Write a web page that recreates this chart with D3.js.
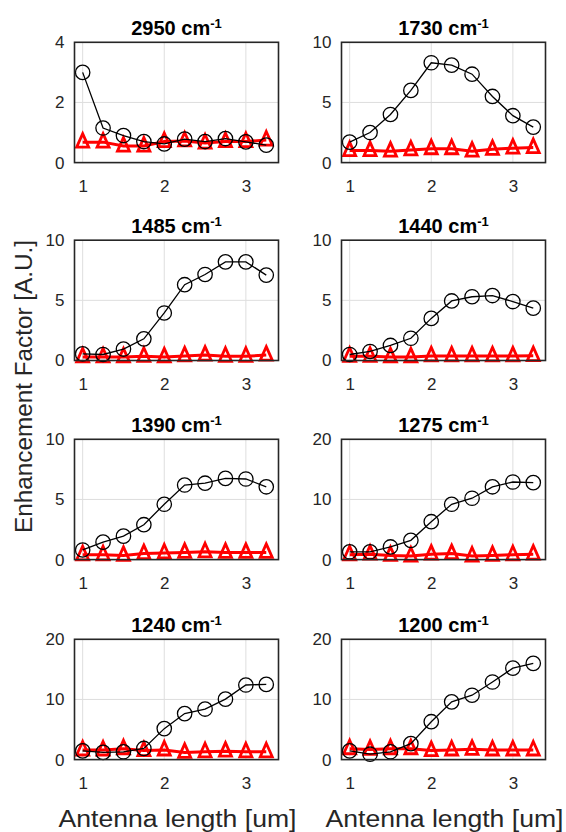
<!DOCTYPE html>
<html>
<head>
<meta charset="utf-8">
<script src="https://cdn.jsdelivr.net/npm/d3@7"></script>
<style>
  html, body { margin: 0; padding: 0; background: #fff; }
  svg { display: block; }
  text { font-family: "Liberation Sans", Arial, Helvetica, sans-serif; }
</style>
</head>
<body>
<svg id="chart" width="566" height="832"></svg>
<script>
// ---------------- data ----------------
const antennaLength = [1, 1.25, 1.5, 1.75, 2, 2.25, 2.5, 2.75, 3, 3.25];
const wavenumbers = ["2950", "1730", "1485", "1440", "1390", "1275", "1240", "1200"];
const yMaxes = [4, 10, 10, 10, 10, 20, 20, 20];
const yTickValues = [
  [0, 2, 4], [0, 5, 10], [0, 5, 10], [0, 5, 10],
  [0, 5, 10], [0, 10, 20], [0, 10, 20], [0, 10, 20]
];
const xTickValues = [1, 2, 3];

// black circles
const circleSeries = [
  [3.0, 1.15, 0.9, 0.7, 0.62, 0.78, 0.7, 0.8, 0.69, 0.58],
  [1.7, 2.5, 4.0, 6.0, 8.3, 8.1, 7.35, 5.5, 3.9, 2.95],
  [0.55, 0.5, 0.95, 1.8, 3.95, 6.3, 7.15, 8.2, 8.2, 7.1],
  [0.5, 0.75, 1.25, 1.85, 3.5, 4.95, 5.3, 5.4, 4.9, 4.35],
  [0.8, 1.45, 1.95, 2.9, 4.6, 6.2, 6.35, 6.75, 6.7, 6.05],
  [1.3, 1.3, 2.1, 3.2, 6.3, 9.2, 10.2, 12.1, 12.9, 12.8],
  [1.45, 1.2, 1.3, 1.85, 5.15, 7.65, 8.4, 10.05, 12.4, 12.5],
  [1.45, 0.9, 1.3, 2.65, 6.3, 9.6, 10.7, 12.9, 15.2, 16.0]
];
// red triangles
const triangleSeries = [
  [0.68, 0.68, 0.55, 0.55, 0.7, 0.72, 0.65, 0.7, 0.7, 0.75],
  [1.0, 1.0, 0.95, 1.05, 1.15, 1.15, 0.95, 1.1, 1.2, 1.25],
  [0.3, 0.3, 0.3, 0.35, 0.3, 0.38, 0.45, 0.35, 0.35, 0.45],
  [0.35, 0.35, 0.3, 0.3, 0.38, 0.38, 0.38, 0.38, 0.38, 0.4],
  [0.4, 0.4, 0.35, 0.5, 0.55, 0.6, 0.65, 0.6, 0.6, 0.6],
  [0.8, 0.9, 0.7, 0.6, 0.9, 1.0, 0.6, 0.7, 0.8, 0.9],
  [1.6, 1.6, 1.8, 1.5, 1.6, 1.2, 1.3, 1.4, 1.3, 1.3],
  [1.8, 1.7, 1.8, 1.8, 1.5, 1.6, 1.7, 1.6, 1.6, 1.6]
];
const xLabelText = "Antenna length [um]";
const yLabelText = "Enhancement Factor [A.U.]";

// ---------------- layout ----------------
const colLefts = [74.5, 341.5];
const rowTops = [42.3, 240.2, 439.3, 639.3];
const panelW = 204;
const panelH = 120.3;

const svg = d3.select("#chart");
const axisColor = "#262626";

const triPath = "M0,-8.5 L6,5 L-6,5 Z";

wavenumbers.forEach((wn, i) => {
  const col = i % 2, row = Math.floor(i / 2);
  const x0 = colLefts[col], y0 = rowTops[row];
  const g = svg.append("g").attr("transform", `translate(${x0},${y0})`);

  const x = d3.scaleLinear().domain([0.9, 3.4]).range([0, panelW]);
  const y = d3.scaleLinear().domain([0, yMaxes[i]]).range([panelH, 0]);

  // grid
  g.append("g").selectAll("line.gx").data(xTickValues).join("line")
    .attr("x1", d => x(d)).attr("x2", d => x(d))
    .attr("y1", 0).attr("y2", panelH)
    .attr("stroke", "#dedede").attr("stroke-width", 1);
  g.append("g").selectAll("line.gy").data(yTickValues[i]).join("line")
    .attr("x1", 0).attr("x2", panelW)
    .attr("y1", d => y(d)).attr("y2", d => y(d))
    .attr("stroke", "#dedede").attr("stroke-width", 1);

  // axes via d3 axis (labels)
  const xAxis = d3.axisBottom(x).tickValues(xTickValues).tickFormat(d3.format("d")).tickSize(0).tickPadding(17);
  const yAxis = d3.axisLeft(y).tickValues(yTickValues[i]).tickFormat(d3.format("d")).tickSize(0).tickPadding(10);
  const gx = g.append("g").attr("transform", `translate(0,${panelH})`).call(xAxis);
  const gy = g.append("g").call(yAxis);
  [gx, gy].forEach(a => {
    a.select(".domain").remove();
    a.selectAll("text").attr("fill", axisColor).style("font-size", "17px")
      .style("font-family", "'Liberation Sans', Arial, sans-serif");
  });
  gx.selectAll("text").attr("dy", "0.72em");

  const ptsC = antennaLength.map((l, k) => [l, circleSeries[i][k]]);
  const ptsT = antennaLength.map((l, k) => [l, triangleSeries[i][k]]);
  const line = d3.line().x(d => x(d[0])).y(d => y(d[1]));

  // red series
  g.append("path").datum(ptsT).attr("d", line)
    .attr("fill", "none").attr("stroke", "#ff0000").attr("stroke-width", 3);
  g.append("g").selectAll("path").data(ptsT).join("path")
    .attr("d", triPath)
    .attr("transform", d => `translate(${x(d[0])},${y(d[1])})`)
    .attr("fill", "none").attr("stroke", "#ff0000").attr("stroke-width", 2.8)
    .attr("stroke-linejoin", "miter");

  // black series
  g.append("path").datum(ptsC).attr("d", line)
    .attr("fill", "none").attr("stroke", "#000").attr("stroke-width", 1.3);
  g.append("g").selectAll("circle").data(ptsC).join("circle")
    .attr("cx", d => x(d[0])).attr("cy", d => y(d[1])).attr("r", 7.2)
    .attr("fill", "none").attr("stroke", "#000").attr("stroke-width", 1.3);

  // box
  g.append("rect").attr("x", 0).attr("y", 0).attr("width", panelW).attr("height", panelH)
    .attr("fill", "none").attr("stroke", axisColor).attr("stroke-width", 1.6);

  // title
  const t = g.append("text").attr("x", panelW / 2).attr("y", -7)
    .attr("text-anchor", "middle").attr("fill", "#000")
    .style("font-size", "20px").style("font-weight", "bold");
  t.append("tspan").text(wn + " cm");
  t.append("tspan").attr("dy", -7.5).style("font-size", "13px").text("-1");
});

// x labels
colLefts.forEach(cx => {
  svg.append("text")
    .attr("x", cx + panelW / 2 + 1).attr("y", 826.5)
    .attr("text-anchor", "middle").attr("fill", axisColor)
    .attr("textLength", 238).attr("lengthAdjust", "spacingAndGlyphs")
    .style("font-size", "23px")
    .text(xLabelText);
});

// y label
svg.append("text")
  .attr("transform", "translate(31.5,386.5) rotate(-90)")
  .attr("text-anchor", "middle").attr("fill", axisColor)
  .attr("textLength", 293).attr("lengthAdjust", "spacingAndGlyphs")
  .style("font-size", "23px")
  .text(yLabelText);
</script>
</body>
</html>
